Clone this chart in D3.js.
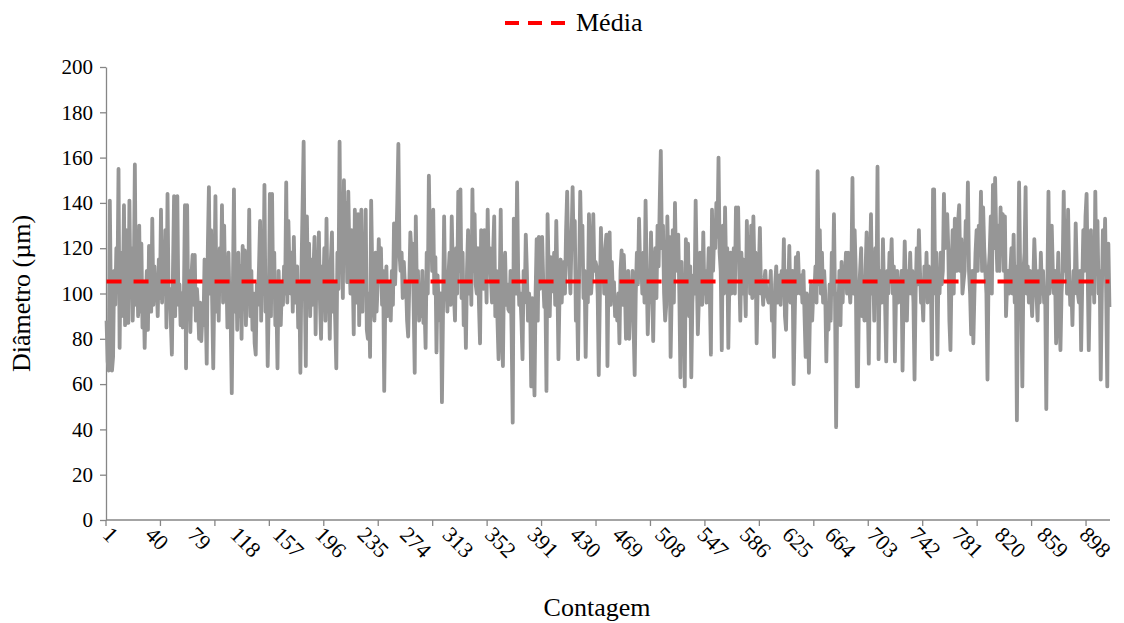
<!DOCTYPE html>
<html>
<head>
<meta charset="utf-8">
<script src="https://cdn.jsdelivr.net/npm/d3@7"></script>
<style>
  html, body { margin: 0; padding: 0; background: #fff; }
</style>
</head>
<body>
<div id="chart"></div>
<script>
// Diâmetro (µm) de cada contagem
var diametro = [
  88, 70, 66, 141, 96, 66, 72, 110, 95, 120,
  104, 155, 76, 118, 90, 100, 139, 86, 128, 92,
  87, 141, 99, 120, 88, 105, 157, 95, 112, 90,
  130, 92, 122, 85, 104, 76, 98, 110, 84, 121,
  118, 92, 133, 95, 112, 100, 106, 90, 115, 98,
  137, 96, 118, 100, 128, 85, 144, 98, 102, 88,
  73, 110, 143, 90, 126, 143, 95, 104, 86, 100,
  85, 98, 139, 67, 139, 92, 110, 83, 108, 117,
  95, 117, 88, 102, 94, 80, 96, 79, 90, 86,
  115, 94, 69, 120, 147, 100, 128, 96, 67, 104,
  143, 92, 112, 88, 120, 105, 139, 96, 130, 100,
  110, 85, 118, 94, 88, 56, 102, 146, 92, 115,
  84, 118, 90, 112, 80, 121, 96, 119, 86, 108,
  98, 137, 90, 110, 84, 100, 78, 73, 104, 95,
  112, 132, 88, 120, 100, 148, 92, 106, 68, 97,
  144, 90, 144, 100, 118, 86, 96, 67, 110, 92,
  86, 104, 95, 112, 100, 149, 96, 132, 110, 100,
  118, 92, 125, 100, 96, 112, 85, 104, 65, 110,
  138, 167, 105, 68, 134, 100, 122, 90, 115, 95,
  110, 125, 82, 118, 104, 127, 96, 80, 112, 100,
  120, 88, 133, 95, 108, 80, 115, 127, 92, 105,
  88, 67, 118, 102, 167, 110, 125, 98, 150, 115,
  140, 105, 145, 118, 100, 128, 112, 82, 137, 120,
  96, 135, 86, 118, 137, 92, 124, 100, 137, 84,
  80, 100, 72, 141, 110, 96, 88, 118, 92, 104,
  124, 105, 120, 95, 110, 57, 98, 112, 90, 104,
  100, 88, 110, 95, 131, 104, 120, 140, 166, 118,
  110, 118, 98, 114, 104, 105, 88, 81, 104, 127,
  118, 122, 95, 65, 134, 100, 110, 88, 95, 90,
  110, 87, 95, 76, 118, 100, 152, 120, 130, 110,
  137, 100, 116, 74, 108, 95, 88, 100, 52, 92,
  134, 100, 105, 92, 108, 118, 95, 134, 110, 100,
  88, 120, 100, 145, 110, 146, 98, 118, 86, 104,
  76, 110, 128, 100, 118, 95, 146, 110, 135, 104,
  100, 120, 95, 78, 128, 110, 102, 128, 115, 96,
  137, 110, 120, 106, 96, 118, 134, 90, 110, 88,
  71, 100, 137, 84, 68, 110, 118, 95, 104, 93,
  92, 110, 82, 43, 133, 104, 100, 149, 110, 95,
  100, 88, 71, 110, 96, 126, 110, 88, 100, 95,
  59, 98, 75, 55, 100, 124, 88, 125, 102, 110,
  125, 106, 94, 100, 57, 135, 110, 90, 116, 101,
  101, 118, 95, 132, 106, 71, 100, 115, 96, 110,
  114, 100, 128, 145, 118, 112, 100, 124, 147, 120,
  132, 88, 100, 71, 110, 145, 120, 130, 98, 110,
  72, 104, 96, 135, 118, 100, 108, 135, 110, 114,
  112, 100, 64, 98, 129, 110, 118, 100, 120, 126,
  68, 110, 127, 95, 114, 100, 105, 90, 96, 88,
  100, 78, 110, 119, 95, 117, 104, 80, 95, 110,
  80, 100, 98, 110, 85, 64, 100, 118, 104, 133,
  112, 115, 100, 118, 96, 141, 110, 82, 100, 96,
  127, 104, 79, 110, 120, 98, 130, 112, 140, 163,
  120, 130, 100, 88, 95, 134, 110, 125, 72, 100,
  128, 96, 140, 110, 118, 126, 100, 63, 114, 95,
  104, 59, 124, 100, 122, 90, 112, 63, 96, 108,
  100, 141, 110, 82, 98, 118, 110, 95, 127, 100,
  110, 96, 104, 120, 100, 73, 137, 110, 126, 120,
  140, 125, 160, 118, 110, 75, 130, 100, 138, 110,
  120, 76, 106, 118, 100, 110, 120, 100, 138, 126,
  138, 110, 88, 118, 100, 115, 106, 90, 132, 110,
  125, 100, 130, 98, 134, 110, 118, 78, 104, 110,
  129, 100, 105, 95, 106, 110, 100, 98, 96, 100,
  110, 88, 100, 72, 104, 112, 96, 100, 108, 95,
  110, 100, 124, 90, 84, 110, 100, 121, 96, 100,
  110, 60, 90, 116, 100, 118, 104, 100, 108, 96,
  110, 90, 72, 100, 96, 65, 92, 104, 88, 100,
  100, 112, 96, 154, 104, 128, 100, 118, 96, 110,
  100, 70, 96, 84, 104, 88, 118, 100, 135, 96,
  41, 100, 90, 110, 86, 114, 96, 112, 104, 118,
  100, 118, 104, 96, 110, 151, 100, 128, 110, 59,
  59, 100, 110, 120, 90, 95, 88, 110, 127, 100,
  69, 110, 135, 100, 112, 88, 120, 100, 156, 71,
  110, 100, 96, 124, 100, 95, 70, 110, 100, 118,
  110, 124, 100, 112, 70, 100, 110, 96, 104, 100,
  110, 66, 100, 123, 104, 88, 110, 100, 118, 100,
  110, 96, 62, 100, 120, 104, 128, 110, 96, 100,
  88, 112, 100, 118, 96, 112, 100, 104, 71, 146,
  146, 100, 118, 73, 110, 100, 118, 104, 110, 144,
  120, 130, 135, 120, 88, 75, 110, 128, 100, 133,
  126, 110, 132, 139, 110, 124, 100, 105, 110, 132,
  120, 149, 110, 100, 82, 110, 78, 100, 118, 128,
  110, 130, 118, 145, 110, 138, 120, 110, 100, 62,
  110, 118, 134, 100, 148, 120, 151, 126, 110, 130,
  110, 138, 120, 135, 110, 134, 90, 104, 110, 100,
  110, 120, 100, 126, 96, 112, 44, 100, 149, 110,
  100, 59, 110, 118, 147, 100, 112, 96, 110, 100,
  90, 104, 124, 110, 100, 88, 110, 96, 118, 100,
  110, 96, 100, 49, 104, 145, 100, 110, 130, 110,
  100, 110, 78, 100, 118, 90, 75, 100, 110, 145,
  110, 132, 100, 137, 110, 95, 104, 86, 110, 100,
  131, 110, 100, 96, 110, 75, 104, 128, 110, 134,
  144, 110, 75, 104, 128, 100, 118, 96, 145, 110,
  132, 100, 110, 62, 100, 128, 110, 133, 100, 59,
  122, 94
];
var media = 105.3;
var yTicks = [0, 20, 40, 60, 80, 100, 120, 140, 160, 180, 200];
var xLabels = [1, 40, 79, 118, 157, 196, 235, 274, 313, 352, 391, 430,
               469, 508, 547, 586, 625, 664, 703, 742, 781, 820, 859, 898];
var xTickEvery = 50;

var width = 1124,
    height = 623;
var margin = {left: 106, right: 14, top: 67, bottom: 103};
var axisColor = "#868686";
var fonte = "Liberation Serif";

var svg = d3.select("#chart").append("svg")
            .attr("width", width)
            .attr("height", height);

var contagem = d3.range(1, diametro.length + 1);
var x = d3.scaleBand()
          .domain(contagem)
          .range([margin.left, width - margin.right])
          .padding(0);
var y = d3.scaleLinear()
          .domain([0, 200])
          .range([height - margin.bottom, margin.top]);
var cx = function(i) { return x(i) + x.bandwidth() / 2; };

// Y axis
var yAxis = svg.append("g")
    .attr("transform", "translate(" + margin.left + ",0)")
    .call(d3.axisLeft(y).tickValues(yTicks).tickSize(6).tickSizeOuter(0).tickPadding(7));
yAxis.attr("font-family", fonte).attr("font-size", 21);
yAxis.select(".domain").attr("stroke", axisColor).attr("stroke-width", 1.3);
yAxis.selectAll(".tick line").attr("stroke", axisColor).attr("stroke-width", 1.3);
yAxis.selectAll(".tick text")
    .attr("font-family", fonte)
    .attr("font-size", 21)
    .attr("fill", "#000");

// X axis line and tick marks (between categories, every 50)
var xg = svg.append("g");
xg.append("line")
    .attr("x1", x.range()[0]).attr("x2", x.range()[1])
    .attr("y1", y(0)).attr("y2", y(0))
    .attr("stroke", axisColor).attr("stroke-width", 1.3);
var tickCats = contagem.filter(function(c) { return (c - 1) % xTickEvery === 0; });
xg.selectAll(".xtick")
    .data(tickCats)
    .enter().append("line")
    .attr("class", "xtick")
    .attr("x1", function(c) { return x(c); })
    .attr("x2", function(c) { return x(c); })
    .attr("y1", y(0)).attr("y2", y(0) + 6)
    .attr("stroke", axisColor).attr("stroke-width", 1.3);
xg.selectAll(".xlabel")
    .data(xLabels)
    .enter().append("text")
    .attr("class", "xlabel")
    .attr("font-family", fonte)
    .attr("font-size", 22)
    .attr("text-anchor", "start")
    .attr("transform", function(c) {
        return "translate(" + (cx(c) - 5) + "," + (y(0) + 16) + ") rotate(45)";
    })
    .text(function(c) { return c; });

// series
var line = d3.line()
    .x(function(d, i) { return cx(i + 1); })
    .y(function(d) { return y(d); });
svg.append("path")
    .datum(diametro)
    .attr("d", line)
    .attr("fill", "none")
    .attr("stroke", "#969696")
    .attr("stroke-width", 3.8)
    .attr("stroke-linejoin", "round");

// mean line
svg.append("line")
    .attr("x1", cx(1)).attr("x2", cx(diametro.length))
    .attr("y1", y(media)).attr("y2", y(media))
    .attr("stroke", "#ff0000")
    .attr("stroke-width", 4)
    .attr("stroke-dasharray", "15,12");

// legend
var lg = svg.append("g").attr("transform", "translate(505,23)");
lg.append("line")
    .attr("x1", 0).attr("x2", 60)
    .attr("y1", 0).attr("y2", 0)
    .attr("stroke", "#ff0000")
    .attr("stroke-width", 4)
    .attr("stroke-dasharray", "14,9");
lg.append("text")
    .attr("x", 71).attr("y", 8)
    .attr("font-family", fonte)
    .attr("font-size", 26)
    .text("Média");

// axis titles
svg.append("text")
    .attr("transform", "translate(30," + y(100) + ") rotate(-90)")
    .attr("text-anchor", "middle")
    .attr("font-family", fonte)
    .attr("font-size", 26)
    .text("Diâmetro (µm)");
svg.append("text")
    .attr("x", 597).attr("y", 616)
    .attr("text-anchor", "middle")
    .attr("font-family", fonte)
    .attr("font-size", 26)
    .text("Contagem");
</script>
</body>
</html>
